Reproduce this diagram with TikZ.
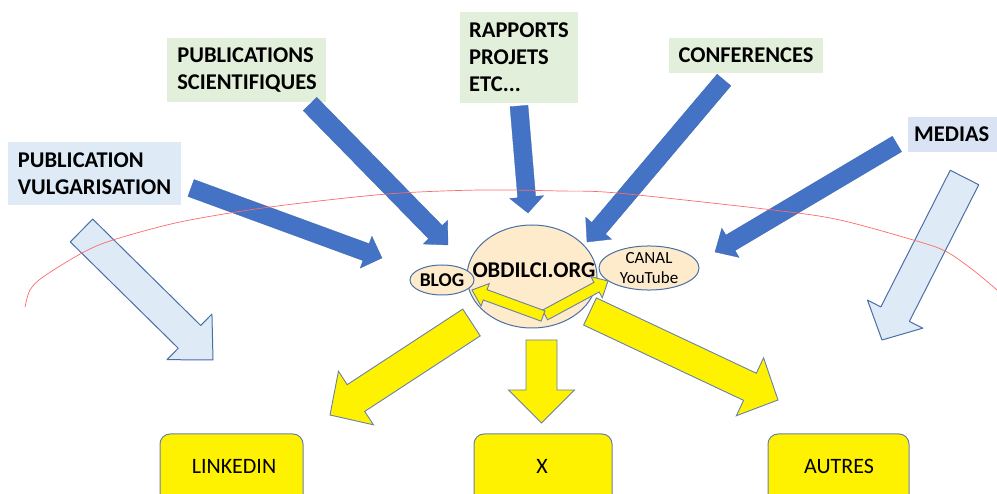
\documentclass[tikz,border=0pt]{standalone}
\usepackage{fontspec}
\setmainfont{Carlito}
\usetikzlibrary{calc,shapes.geometric}
\definecolor{lgreen}{HTML}{E2EFDA}
\definecolor{lblue}{HTML}{DEEBF7}
\definecolor{lblue2}{HTML}{DAE3F3}
\definecolor{dblue}{HTML}{4472C4}
\definecolor{outl}{HTML}{4A6FA5}
\definecolor{youtl}{HTML}{6A80A8}
\definecolor{peach}{HTML}{FDEBCB}
\definecolor{arcred}{HTML}{FF6A6A}
\newcommand{\blockarrow}[6]{%
  \coordinate (bah) at ($(#3)!#6!(#2)$);
  \draw[#1] ($(#2)!#4!90:(#3)$) -- ($(bah)!#4!90:(#3)$) -- ($(bah)!#5!90:(#3)$)
    -- (#3) -- ($(bah)!#5!-90:(#3)$) -- ($(bah)!#4!-90:(#3)$) -- ($(#2)!#4!-90:(#3)$) -- cycle;
}
\tikzset{
  labelbox/.style={inner sep=0pt, align=left, font=\fontsize{22.5}{27}\selectfont\bfseries},
  bluearrow/.style={fill=dblue, draw=dblue!90!black, line width=0.3pt},
  palearrow/.style={fill=lblue, draw=outl, line width=1pt, line join=round},
  yelarrow/.style={fill=yellow, draw=youtl, line width=0.9pt, line join=miter},
  bubble/.style={ellipse, fill=peach, draw=outl, line width=1pt, inner sep=0pt},
  outbox/.style={rounded corners=10pt, fill=yellow, draw=youtl, line width=1pt},
  outtext/.style={font=\fontsize{22}{26}\selectfont},
}
\begin{document}
\begin{tikzpicture}[x=1pt,y=-1pt]
\useasboundingbox (0,0) rectangle (997,494);
\clip (0,0) rectangle (997,494);
% label boxes
\fill[lblue] (8,142) rectangle (181,205);
\node[labelbox, anchor=center] (vulg) at (94.5,174) {PUBLICATION\\VULGARISATION};
\fill[lgreen] (167,38) rectangle (326,102);
\node[labelbox, anchor=center] (sci) at (247,70) {PUBLICATIONS\\SCIENTIFIQUES};
\fill[lgreen] (460,12) rectangle (578,103);
\node[labelbox, anchor=center] (rap) at (519,57.5) {RAPPORTS\\PROJETS\\ETC...};
\fill[lgreen] (669,38) rectangle (823,73);
\node[labelbox, anchor=center] (conf) at (746,55.5) {CONFERENCES};
\fill[lblue2] (908,117) rectangle (997,152);
\node[labelbox, anchor=west] (med) at (914,134.5) {MEDIAS};
% bottom boxes
\draw[outbox] (160,434) rectangle (303,510);
\node[outtext] (lin) at (234,466) {LINKEDIN};
\draw[outbox] (474,434) rectangle (612,510);
\node[outtext] (xx) at (542,466) {X};
\draw[outbox] (768,434) rectangle (909,510);
\node[outtext] (aut) at (839,466) {AUTRES};
% arrow coordinates
\coordinate (pvA) at (81.5,230.5);  \coordinate (pvT) at (213,360);
\coordinate (pmA) at (964.5,177.5); \coordinate (pmT) at (882,340);
\coordinate (b1A) at (191,188); \coordinate (b1T) at (382,258);
\coordinate (b2A) at (310,104); \coordinate (b2T) at (448,245);
\coordinate (b3A) at (519,106); \coordinate (b3T) at (528,213);
\coordinate (b4A) at (724,80);  \coordinate (b4T) at (587,242);
\coordinate (b5A) at (897,144); \coordinate (b5T) at (715,252);
\coordinate (y1A) at (471.5,322.5); \coordinate (y1T) at (330,415);
\coordinate (y2A) at (541.5,340); \coordinate (y2T) at (541.5,423);
\coordinate (y3A) at (590,311.5); \coordinate (y3T) at (778,400);
% pale arrows
\blockarrow{palearrow}{pvA}{pvT}{16pt}{32pt}{33pt}
\blockarrow{palearrow}{pmA}{pmT}{16pt}{31pt}{29pt}
% blue arrows
\blockarrow{bluearrow}{b1A}{b1T}{9pt}{17pt}{17pt}
\blockarrow{bluearrow}{b2A}{b2T}{9.5pt}{17pt}{18pt}
\blockarrow{bluearrow}{b3A}{b3T}{9pt}{17pt}{16pt}
\blockarrow{bluearrow}{b4A}{b4T}{9pt}{17pt}{18pt}
\blockarrow{bluearrow}{b5A}{b5T}{9pt}{17pt}{18pt}
% yellow arrows
\blockarrow{yelarrow}{y1A}{y1T}{16pt}{32pt}{31pt}
\blockarrow{yelarrow}{y2A}{y2T}{15.5pt}{33pt}{33pt}
\blockarrow{yelarrow}{y3A}{y3T}{15pt}{32pt}{31pt}
% hub
\node[bubble, minimum width=130pt, minimum height=103pt] (hub) at (532,276.5) {};
\node[font=\fontsize{22.5}{26}\selectfont\bfseries] (hubt) at (534,270) {OBDILCI.ORG};
\node[bubble, minimum width=64pt, minimum height=30pt, font=\fontsize{19.5}{22}\selectfont\bfseries] (blog) at (442,280) {BLOG};
\node[bubble, minimum width=100pt, minimum height=44pt, align=center, font=\fontsize{17}{20}\selectfont] (yt) at (649,268) {CANAL\\YouTube};
% small yellow arrows
\coordinate (s1A) at (545,315); \coordinate (s1T) at (608,281);
\coordinate (s2A) at (543,316); \coordinate (s2T) at (472,290);
\blockarrow{yelarrow}{s1A}{s1T}{5.5pt}{12pt}{13pt}
\blockarrow{yelarrow}{s2A}{s2T}{5.5pt}{12pt}{14pt}
% red arc
\draw[arcred, line width=0.7pt] plot[smooth] coordinates {(25,307) (30,290) (43,277) (82,253) (113,240) (180,222) (270,207) (387,194) (480,190) (560,191) (617,193) (773,210) (840,220) (920,242) (947,252) (973,270) (997,290)};
\end{tikzpicture}
\end{document}
